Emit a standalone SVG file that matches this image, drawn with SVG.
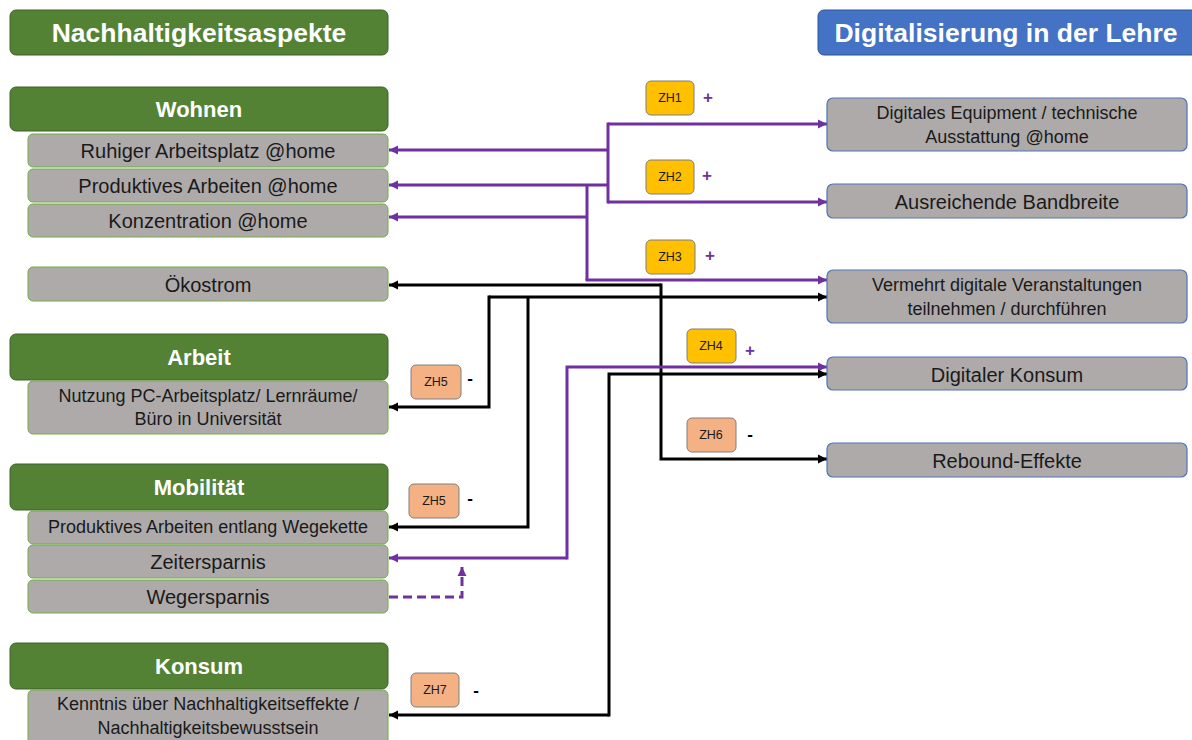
<svg xmlns="http://www.w3.org/2000/svg" width="1192" height="740" viewBox="0 0 1192 740">
<style>
text{font-family:"Liberation Sans",Arial,sans-serif;text-anchor:middle;dominant-baseline:central}
.hdr{fill:#548235;stroke:#3f6128;stroke-width:1}
.hdrb{fill:#4472C4;stroke:#2f5597;stroke-width:1}
.htxt{fill:#fff;font-weight:bold;font-size:26.5px}
.ctxt{fill:#fff;font-weight:bold;font-size:22px}
.sub{fill:#AEAAAA;stroke:#70AD47;stroke-width:1}
.rb{fill:#AEAAAA;stroke:#4f74b8;stroke-width:1.2}
.t{fill:#1a1a1a;font-size:20px}
.ts{fill:#1a1a1a;font-size:18px}
.zy{fill:#FFC000;stroke:#7f7f7f;stroke-width:1}
.zo{fill:#F4B183;stroke:#7f7f7f;stroke-width:1}
.zt{fill:#1a1a1a;font-size:12.5px}
.plus{fill:#7030A0;font-weight:bold;font-size:17px}
.minus{fill:#000;font-weight:bold;font-size:17px}
.p{fill:none;stroke:#7030A0;stroke-width:3}
.b{fill:none;stroke:#000;stroke-width:3}
</style>
<defs>
<marker id="ap" markerUnits="userSpaceOnUse" markerWidth="10" markerHeight="10" refX="9" refY="5" orient="auto"><path d="M0,0.5 L9,5 L0,9.5 Z" fill="#7030A0"/></marker>
<marker id="ab" markerUnits="userSpaceOnUse" markerWidth="10" markerHeight="10" refX="9" refY="5" orient="auto"><path d="M0,0.5 L9,5 L0,9.5 Z" fill="#000"/></marker>
</defs>
<rect width="1192" height="740" fill="#fff"/>

<g id="connectors">
<path class="p" d="M608,124 H827" marker-end="url(#ap)"/>
<path class="p" d="M608,150 H389" marker-end="url(#ap)"/>
<path class="p" d="M608,185 H389" marker-end="url(#ap)"/>
<path class="p" d="M608,202 H827" marker-end="url(#ap)"/>
<path class="p" d="M608,122.5 V203.5"/>
<path class="p" d="M587,185 V280"/>
<path class="p" d="M587,217 H389" marker-end="url(#ap)"/>
<path class="p" d="M585.5,280 H827" marker-end="url(#ap)"/>
<path class="b" d="M661,285 H389" marker-end="url(#ab)"/>
<path class="b" d="M661,283.5 V459 H827" marker-end="url(#ab)"/>
<path class="b" d="M489,297 H827" marker-end="url(#ab)"/>
<path class="b" d="M489,295.5 V407 H389" marker-end="url(#ab)"/>
<path class="b" d="M528,297 V527 H389" marker-end="url(#ab)"/>
<path class="p" d="M567,558 H389" marker-end="url(#ap)"/>
<path class="p" d="M567,559.5 V367 H827" marker-end="url(#ap)"/>
<path class="b" d="M609,715 H389" marker-end="url(#ab)"/>
<path class="b" d="M609,716.5 V374 H827" marker-end="url(#ab)"/>
<path class="p" d="M389,597 H462 V567" stroke-dasharray="9,5" marker-end="url(#ap)"/>
</g>

<g id="title-left"><rect class="hdr" x="10" y="10" width="378" height="45" rx="6"/><text class="htxt" x="199" y="33">Nachhaltigkeitsaspekte</text></g>
<g id="title-right"><rect class="hdrb" x="818" y="10" width="380" height="45" rx="6"/><text class="htxt" x="1006" y="33">Digitalisierung in der Lehre</text></g>

<g id="wohnen"><rect class="hdr" x="10" y="87" width="378" height="44" rx="6"/><text class="ctxt" x="199" y="109">Wohnen</text></g>
<g id="ruhiger"><rect class="sub" x="28" y="134" width="360" height="33" rx="5"/><text class="t" x="208" y="151">Ruhiger Arbeitsplatz @home</text></g>
<g id="produktiv-home"><rect class="sub" x="28" y="169" width="360" height="33" rx="5"/><text class="t" x="208" y="186">Produktives Arbeiten @home</text></g>
<g id="konzentration"><rect class="sub" x="28" y="204" width="360" height="33" rx="5"/><text class="t" x="208" y="221">Konzentration @home</text></g>
<g id="oekostrom"><rect class="sub" x="28" y="267" width="360" height="34" rx="5"/><text class="t" x="208" y="285">Ökostrom</text></g>

<g id="arbeit"><rect class="hdr" x="10" y="334" width="378" height="46" rx="6"/><text class="ctxt" x="199" y="357">Arbeit</text></g>
<g id="nutzung"><rect class="sub" x="28" y="381" width="360" height="53" rx="5"/><text class="ts" x="208" y="396">Nutzung PC-Arbeitsplatz/ Lernräume/</text><text class="ts" x="208" y="419">Büro in Universität</text></g>

<g id="mobilitaet"><rect class="hdr" x="10" y="464" width="378" height="46" rx="6"/><text class="ctxt" x="199" y="487">Mobilität</text></g>
<g id="wegekette"><rect class="sub" x="28" y="511" width="360" height="33" rx="5"/><text class="ts" x="208" y="527">Produktives Arbeiten entlang Wegekette</text></g>
<g id="zeitersparnis"><rect class="sub" x="28" y="545" width="360" height="33" rx="5"/><text class="t" x="208" y="562">Zeitersparnis</text></g>
<g id="wegersparnis"><rect class="sub" x="28" y="580" width="360" height="33" rx="5"/><text class="t" x="208" y="597">Wegersparnis</text></g>

<g id="konsum"><rect class="hdr" x="10" y="643" width="378" height="46" rx="6"/><text class="ctxt" x="199" y="666">Konsum</text></g>
<g id="kenntnis"><rect class="sub" x="28" y="690" width="360" height="60" rx="5"/><text class="ts" x="208" y="704">Kenntnis über Nachhaltigkeitseffekte /</text><text class="ts" x="208" y="728">Nachhaltigkeitsbewusstsein</text></g>

<g id="equipment"><rect class="rb" x="827" y="98" width="360" height="53" rx="6"/><text class="ts" x="1007" y="113">Digitales Equipment / technische</text><text class="ts" x="1007" y="137">Ausstattung @home</text></g>
<g id="bandbreite"><rect class="rb" x="827" y="184" width="360" height="34" rx="6"/><text class="t" x="1007" y="202">Ausreichende Bandbreite</text></g>
<g id="veranstaltungen"><rect class="rb" x="827" y="270" width="360" height="53" rx="6"/><text class="ts" x="1007" y="285">Vermehrt digitale Veranstaltungen</text><text class="ts" x="1007" y="309">teilnehmen / durchführen</text></g>
<g id="digitaler-konsum"><rect class="rb" x="827" y="357" width="360" height="33" rx="6"/><text class="t" x="1007" y="375">Digitaler Konsum</text></g>
<g id="rebound"><rect class="rb" x="827" y="443" width="360" height="34" rx="6"/><text class="t" x="1007" y="461">Rebound-Effekte</text></g>

<g id="zh1"><rect class="zy" x="646" y="81" width="48" height="34" rx="5"/><text class="zt" x="670" y="98">ZH1</text><text class="plus" x="708" y="97">+</text></g>
<g id="zh2"><rect class="zy" x="646" y="160" width="48" height="34" rx="5"/><text class="zt" x="670" y="177">ZH2</text><text class="plus" x="707" y="175">+</text></g>
<g id="zh3"><rect class="zy" x="646" y="240" width="49" height="34" rx="5"/><text class="zt" x="670" y="257">ZH3</text><text class="plus" x="710" y="255">+</text></g>
<g id="zh4"><rect class="zy" x="687" y="329" width="49" height="34" rx="5"/><text class="zt" x="711" y="346">ZH4</text><text class="plus" x="750" y="350">+</text></g>
<g id="zh5a"><rect class="zo" x="411" y="365" width="50" height="34" rx="5"/><text class="zt" x="436" y="382">ZH5</text><text class="minus" x="470" y="378">-</text></g>
<g id="zh6"><rect class="zo" x="687" y="418" width="49" height="34" rx="5"/><text class="zt" x="711" y="435">ZH6</text><text class="minus" x="750" y="434">-</text></g>
<g id="zh5b"><rect class="zo" x="409" y="484" width="50" height="34" rx="5"/><text class="zt" x="434" y="501">ZH5</text><text class="minus" x="470" y="498">-</text></g>
<g id="zh7"><rect class="zo" x="411" y="673" width="48" height="34" rx="5"/><text class="zt" x="435" y="690">ZH7</text><text class="minus" x="476" y="690">-</text></g>
</svg>
